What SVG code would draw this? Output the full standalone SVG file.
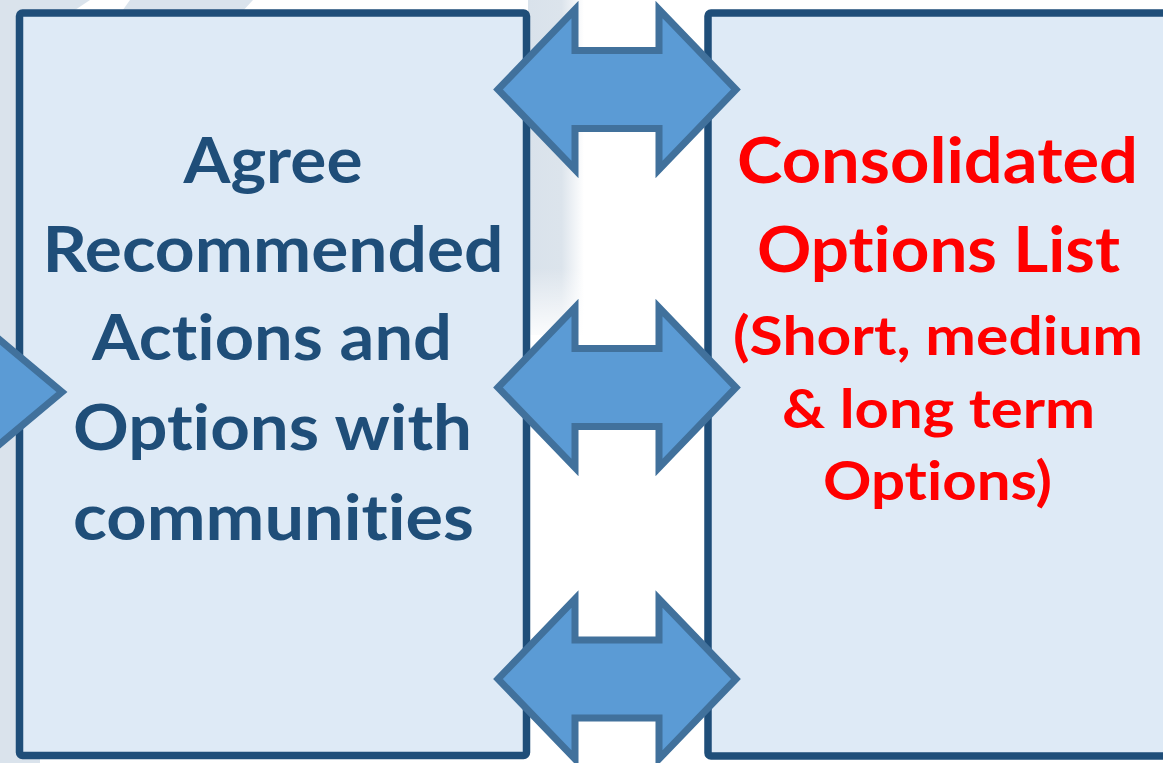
<svg xmlns="http://www.w3.org/2000/svg" width="1163" height="763" viewBox="0 0 1163 763">
  <defs>
    <linearGradient id="fadeR" x1="0" y1="0" x2="1" y2="0">
      <stop offset="0" stop-color="#D9E2EB"/>
      <stop offset="0.6" stop-color="#DCE4EC"/>
      <stop offset="1" stop-color="#FFFFFF"/>
    </linearGradient>
    <linearGradient id="fadeB" x1="0" y1="0" x2="0" y2="1">
      <stop offset="0" stop-color="#FFFFFF" stop-opacity="0"/>
      <stop offset="0.8" stop-color="#FFFFFF" stop-opacity="0"/>
      <stop offset="1" stop-color="#FFFFFF" stop-opacity="0.9"/>
    </linearGradient>
  </defs>
  <style>
    .box { fill: #DEEAF6; stroke: #1F4E79; stroke-width: 7.5; }
    .arr { fill: #5B9BD5; stroke: #41719C; stroke-width: 7; stroke-linejoin: miter; }
    .wm { fill: #DAE3EC; }
    text { font-variant-ligatures: none; font-feature-settings: "liga" 0, "clig" 0; }
    .lt { font-family: Lato, "Open Sans", sans-serif; font-weight: 700; fill: #1F4E79; text-anchor: middle; font-size: 64px; }
    .rt { font-family: Lato, "Open Sans", sans-serif; font-weight: 700; fill: #FF0000; text-anchor: middle; }
  </style>
  <rect width="1163" height="763" fill="#FFFFFF"/>
  <g id="watermark">
    <rect class="wm" x="0" y="0" width="20" height="763"/>
    <path class="wm" d="M0,0 H90 L0,60 Z"/>
    <path class="wm" d="M130,0 H253 L240,14 H120 Z"/>
    <path d="M0,75 L40,50 L40,763 L0,763 Z" class="wm"/>
    <rect x="528" y="0" width="56" height="335" fill="url(#fadeR)"/>
    <rect x="528" y="0" width="56" height="335" fill="url(#fadeB)"/>
  </g>
  <g id="node-left">
    <rect class="box" x="19.5" y="13" width="507" height="742.5" rx="3"/>
    <text class="lt" x="273" y="183" textLength="179" lengthAdjust="spacingAndGlyphs">Agree</text>
    <text class="lt" x="273" y="272" textLength="461" lengthAdjust="spacingAndGlyphs">Recommended</text>
    <text class="lt" x="272" y="360" textLength="360" lengthAdjust="spacingAndGlyphs">Actions and</text>
    <text class="lt" x="272.5" y="450" textLength="399" lengthAdjust="spacingAndGlyphs">Options with</text>
    <text class="lt" x="273.5" y="540" textLength="401" lengthAdjust="spacingAndGlyphs">communities</text>
  </g>
  <g id="node-right">
    <rect class="box" x="708" y="13" width="500" height="743" rx="3"/>
    <text class="rt" x="937.5" y="183" font-size="64" textLength="401" lengthAdjust="spacingAndGlyphs">Consolidated</text>
    <text class="rt" x="938.5" y="272" font-size="64" textLength="363" lengthAdjust="spacingAndGlyphs">Options List</text>
    <text class="rt" x="938" y="355" font-size="54" textLength="410" lengthAdjust="spacingAndGlyphs">(Short, medium</text>
    <text class="rt" x="938.5" y="428" font-size="54" textLength="313" lengthAdjust="spacingAndGlyphs">&amp; long term</text>
    <text class="rt" x="937.5" y="500" font-size="54" textLength="229" lengthAdjust="spacingAndGlyphs">Options)</text>
  </g>
  <g id="connectors">
    <polygon class="arr" points="-60,290 62,392 -60,494"/>
    <polygon class="arr" points="498,89.5 575,9.5 575,50.5 659,50.5 659,9.5 736,89.5 659,169.5 659,128.5 575,128.5 575,169.5"/>
    <polygon class="arr" points="498,387.5 575,307.5 575,348.5 659,348.5 659,307.5 736,387.5 659,467.5 659,426.5 575,426.5 575,467.5"/>
    <polygon class="arr" points="498,679 575,599 575,640 659,640 659,599 736,679 659,759 659,718 575,718 575,759"/>
  </g>
</svg>
